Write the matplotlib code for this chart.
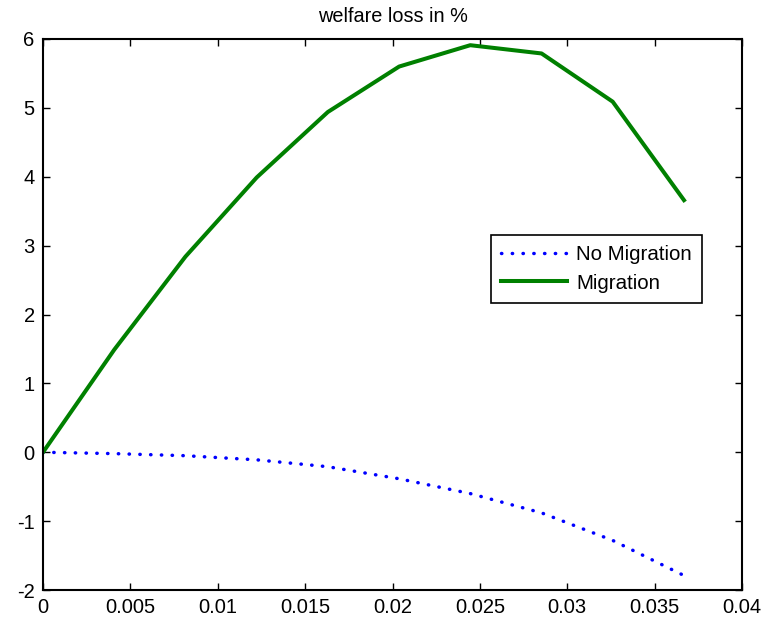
import matplotlib
matplotlib.use("Agg")
import matplotlib.pyplot as plt
import numpy as np

x = [0.0, 0.00408, 0.00815, 0.01223, 0.0163, 0.02038, 0.02445, 0.02853, 0.0326, 0.03668]
no_migration = [0.0, -0.02, -0.05, -0.11, -0.21, -0.385, -0.60, -0.88, -1.28, -1.79]
migration = [0.0, 1.49, 2.84, 3.99, 4.94, 5.60, 5.91, 5.79, 5.09, 3.66]
xticks = [0, 0.005, 0.01, 0.015, 0.02, 0.025, 0.03, 0.035, 0.04]
xticklabels = ["0", "0.005", "0.01", "0.015", "0.02", "0.025", "0.03", "0.035", "0.04"]
yticks = [-2, -1, 0, 1, 2, 3, 4, 5, 6]
yticklabels = ["-2", "-1", "0", "1", "2", "3", "4", "5", "6"]
title = "welfare loss in %"

plt.rcParams['font.family'] = ['Liberation Sans', 'DejaVu Sans']
fig = plt.figure(figsize=(7.62, 6.24), dpi=100)
ax = fig.add_axes([43/762, 1-590/624, (742-43)/762, (590-39)/624])

ax.plot(x, no_migration, color='#0000ff', lw=2.5, linestyle=(0, (0.1, 3.0)),
        dash_capstyle='round', label='No Migration')
ax.plot(x, migration, color='#008000', lw=2.9, label='Migration')

ax.set_xlim(0, 0.04)
ax.set_ylim(-2, 6)
ax.set_xticks(xticks)
ax.set_xticklabels(xticklabels)
ax.set_yticks(yticks)
ax.set_yticklabels(yticklabels)
ax.tick_params(direction='in', length=5, width=1, top=True, right=True,
               labelsize=14.5, pad=6, colors='black')
for s in ax.spines.values():
    s.set_linewidth(1.5)
ax.set_title(title, fontsize=14.3, pad=12)

leg = ax.legend(loc='upper left', bbox_to_anchor=(491/762, 1-235/624),
                bbox_transform=fig.transFigure, borderaxespad=0,
                fancybox=False, edgecolor='black', framealpha=1,
                fontsize=14.8, handlelength=3.2, handletextpad=0.45,
                labelspacing=0.45, borderpad=0.5)
leg.get_frame().set_linewidth(1.2)

fig.savefig("out.png", dpi=100)
